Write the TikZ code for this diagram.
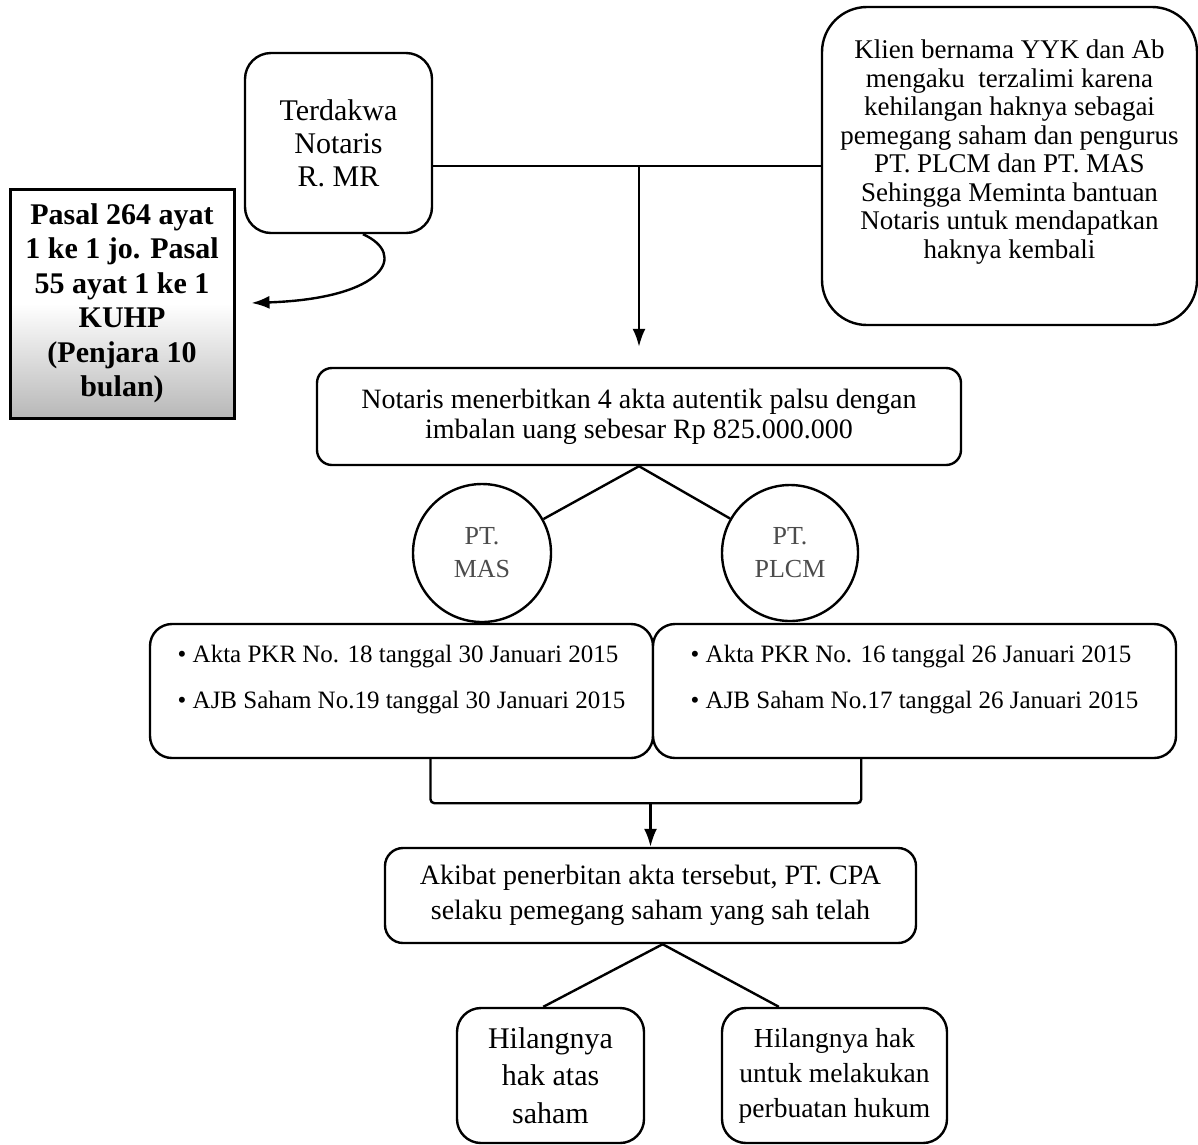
\documentclass[tikz,border=0pt]{standalone}
\usepackage{fontspec}
\setmainfont{Liberation Serif}
\usetikzlibrary{arrows.meta}
\tikzset{
    round-box/.style = {draw=black, fill=white, line width=2.4pt, rectangle, rounded corners=#1, align=center, inner sep=0pt},
    round-box/.default = 20pt,
    bullet-box/.style = {round-box=22pt, align=left, minimum height=134pt, font=\fontsize{25}{29}\selectfont},
    law-box/.style = {draw=black, line width=3pt, rectangle, top color=white, bottom color=black!28, middle color=white, align=center, inner sep=0pt, font=\bfseries\fontsize{30}{34.5}\selectfont},
    pt-circle/.style = {draw=black, fill=white, line width=2.4pt, circle, inner sep=0pt, align=center, text=black!70, font=\fontsize{26}{33}\selectfont},
    link/.style = {line width=2.4pt},
    link-arrow/.style = {link, -{Latex[length=18pt,width=13pt]}},
}

\begin{document}
\begin{tikzpicture}[x=1pt, y=-1pt]
\useasboundingbox (0,0) rectangle (1198,1144);

\node[round-box=26pt, minimum width=187pt, minimum height=180pt, font=\fontsize{30}{33}\selectfont] (terdakwa) at (338.5,143) {Terdakwa\\Notaris\\R. MR};
\node[round-box=45pt, minimum width=375pt, minimum height=318pt, font=\fontsize{27}{28.5}\selectfont] (klien) at (1009.5,166) {Klien bernama YYK dan Ab\\mengaku\ \ terzalimi karena\\kehilangan haknya sebagai\\pemegang saham dan pengurus\\PT. PLCM dan PT. MAS\\Sehingga Meminta bantuan\\Notaris untuk mendapatkan\\haknya kembali\\[5pt]\mbox{}};
\node[law-box, minimum width=224pt, minimum height=229pt] (pasal) at (122,303.5) {Pasal 264 ayat\\1 ke 1 jo. Pasal\\55 ayat 1 ke 1\\KUHP\\(Penjara 10\\bulan)};
\node[round-box=15pt, minimum width=644pt, minimum height=97pt, font=\fontsize{28}{30}\selectfont] (notaris) at (639,416.5) {Notaris menerbitkan 4 akta autentik palsu dengan\\imbalan uang sebesar Rp 825.000.000};

\node[pt-circle, minimum size=138pt] (mas) at (482,553) {PT.\\MAS};
\node[pt-circle, minimum size=136pt] (plcm) at (790,553) {PT.\\PLCM};

\node[bullet-box, minimum width=503pt] (aktamas) at (401.5,691) {\textbullet\ Akta PKR No. 18 tanggal 30 Januari 2015\\[17pt]\textbullet\ AJB Saham No.19 tanggal 30 Januari 2015\\\mbox{}};
\node[bullet-box, minimum width=523pt] (aktaplcm) at (914.5,691) {\textbullet\ Akta PKR No. 16 tanggal 26 Januari 2015\\[17pt]\textbullet\ AJB Saham No.17 tanggal 26 Januari 2015\\\mbox{}};

\node[round-box=18pt, minimum width=531pt, minimum height=95pt, font=\fontsize{28}{35}\selectfont] (akibat) at (650.5,895.5) {Akibat penerbitan akta tersebut, PT. CPA\\selaku pemegang saham yang sah telah};
\node[round-box=24pt, minimum width=187pt, minimum height=135pt, font=\fontsize{30}{37.5}\selectfont] (hak1) at (550.5,1075.5) {Hilangnya\\hak atas\\saham};
\node[round-box=24pt, minimum width=225pt, minimum height=135pt, font=\fontsize{27.5}{35}\selectfont] (hak2) at (834.5,1075.5) {Hilangnya hak\\untuk melakukan\\perbuatan hukum};

\draw[link] (klien.west) -- (klien.west -| terdakwa.east);
\draw[link-arrow, shorten >=20pt] (klien.west -| notaris.north) -- (notaris.north);
\draw[link-arrow, shorten >=16pt] (terdakwa.-75) .. controls +(45,20) and +(150,-5) .. (pasal.east);
\draw[link] (notaris.south) -- (mas);
\draw[link] (notaris.south) -- (plcm);
\draw[link, rounded corners=4pt] (aktamas.-67) -- ++(0,44) coordinate (brk-left) -| (aktaplcm.-128);
\draw[link-arrow] (brk-left -| akibat.north) -- (akibat.north);
\draw[link] (akibat.-76) -- (hak1.96);
\draw[link] (akibat.-76) -- (hak2.129);
\end{tikzpicture}
\end{document}
